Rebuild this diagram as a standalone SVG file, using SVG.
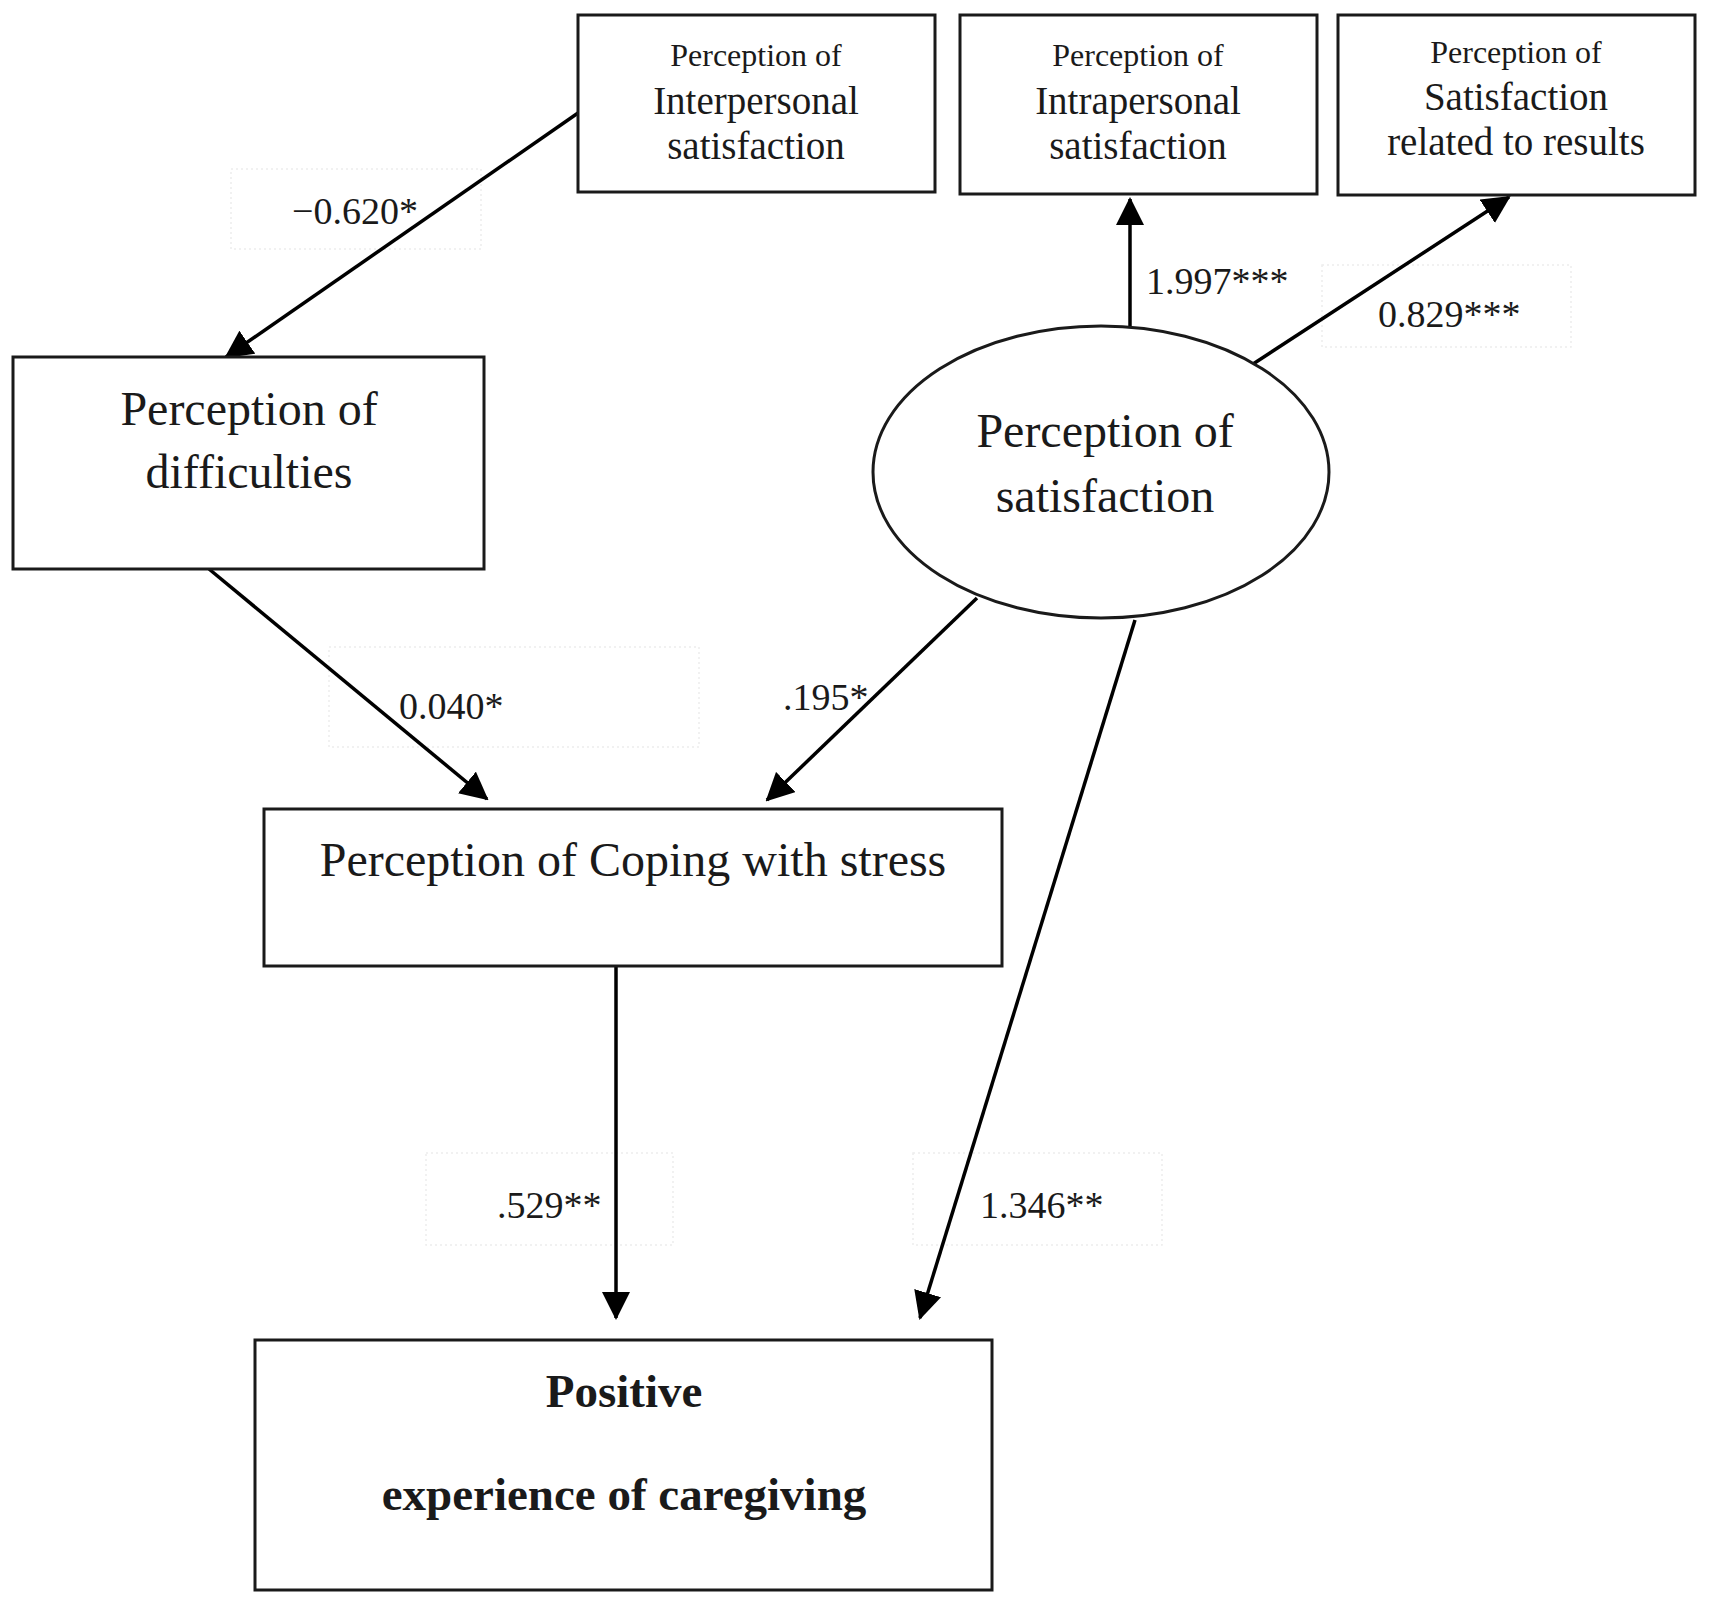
<svg xmlns="http://www.w3.org/2000/svg" width="1711" height="1606" viewBox="0 0 1711 1606">
<style>
.box{fill:#fff;stroke:#1a1a1a;stroke-width:3}
.t{font-family:"Liberation Serif","Times New Roman",serif;fill:#1a1a1a;text-anchor:middle}
.big{font-size:48px}
.bold{font-size:47px;font-weight:bold}
.mid{font-size:39px}
.sm{font-size:32px}
.lbl{font-family:"Liberation Serif","Times New Roman",serif;fill:#1a1a1a;font-size:38px}
.edge{stroke:#000;stroke-width:3.5;fill:none;marker-end:url(#ah)}
.dot{fill:none;stroke:#ededed;stroke-width:1.5;stroke-dasharray:2 3}
</style>
<defs>
<marker id="ah" markerUnits="userSpaceOnUse" markerWidth="28" markerHeight="28" refX="26" refY="14" orient="auto">
<path d="M0,0 L28,14 L0,28 z" fill="#000"/>
</marker>
</defs>
<rect width="1711" height="1606" fill="#fff"/>

<g id="label-boxes">
<rect class="dot" x="231" y="169" width="250" height="80"/>
<rect class="dot" x="1322" y="265" width="249" height="82"/>
<rect class="dot" x="329" y="647" width="370" height="100"/>
<rect class="dot" x="426" y="1153" width="247" height="92"/>
<rect class="dot" x="913" y="1153" width="249" height="92"/>
</g>

<g id="connectors">
<line class="edge" x1="578" y1="113" x2="226" y2="357"/>
<line class="edge" x1="209" y1="569" x2="487" y2="799"/>
<line class="edge" x1="977" y1="598" x2="767" y2="800"/>
<line class="edge" x1="1130" y1="327" x2="1130" y2="199"/>
<line class="edge" x1="1250" y1="366" x2="1509" y2="197"/>
<line class="edge" x1="616" y1="966" x2="616" y2="1318"/>
<line class="edge" x1="1135" y1="620" x2="920" y2="1318"/>
<text class="lbl" x="292" y="224">−0.620*</text>
<text class="lbl" x="1146" y="294">1.997***</text>
<text class="lbl" x="1378" y="327">0.829***</text>
<text class="lbl" x="399" y="719">0.040*</text>
<text class="lbl" x="783" y="710">.195*</text>
<text class="lbl" x="497" y="1218">.529**</text>
<text class="lbl" x="980" y="1218">1.346**</text>
</g>

<g id="interpersonal">
<rect class="box" x="578" y="15" width="357" height="177"/>
<text class="t sm" x="756" y="66">Perception of</text>
<text class="t mid" x="756" y="114">Interpersonal</text>
<text class="t mid" x="756" y="159">satisfaction</text>
</g>

<g id="intrapersonal">
<rect class="box" x="960" y="15" width="357" height="179"/>
<text class="t sm" x="1138" y="66">Perception of</text>
<text class="t mid" x="1138" y="114">Intrapersonal</text>
<text class="t mid" x="1138" y="159">satisfaction</text>
</g>

<g id="results">
<rect class="box" x="1338" y="15" width="357" height="180"/>
<text class="t sm" x="1516" y="63">Perception of</text>
<text class="t mid" x="1516" y="110">Satisfaction</text>
<text class="t mid" x="1516" y="155">related to results</text>
</g>

<g id="difficulties">
<rect class="box" x="13" y="357" width="471" height="212"/>
<text class="t big" x="249" y="425">Perception of</text>
<text class="t big" x="249" y="488">difficulties</text>
</g>

<g id="satisfaction">
<ellipse cx="1101" cy="472" rx="228" ry="146" fill="#fff" stroke="#1a1a1a" stroke-width="3"/>
<text class="t big" x="1105" y="447">Perception of</text>
<text class="t big" x="1105" y="512">satisfaction</text>
</g>

<g id="coping">
<rect class="box" x="264" y="809" width="738" height="157"/>
<text class="t big" x="633" y="876">Perception of Coping with stress</text>
</g>

<g id="positive">
<rect class="box" x="255" y="1340" width="737" height="250"/>
<text class="t bold" x="624" y="1407">Positive</text>
<text class="t bold" x="624" y="1510">experience of caregiving</text>
</g>
</svg>
